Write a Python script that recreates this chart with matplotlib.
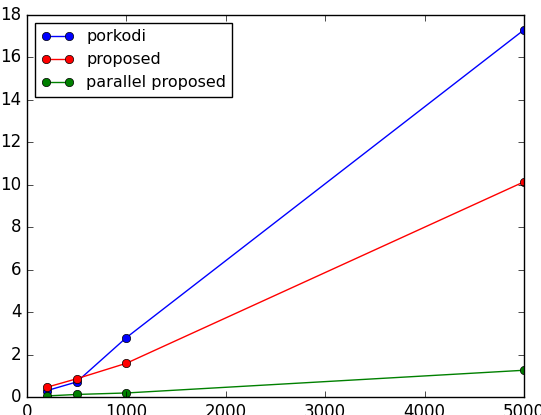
import matplotlib
matplotlib.use("Agg")
import matplotlib.pyplot as plt

plt.style.use('classic')

x = [200, 500, 1000, 5000]
porkodi = [0.30, 0.71, 2.80, 17.30]
proposed = [0.46, 0.86, 1.59, 10.14]
parallel = [0.05, 0.12, 0.19, 1.26]

fig = plt.figure(figsize=(5.41, 4.15), dpi=100, facecolor='white')
ax = fig.add_axes([27/541, 1-397/415, (524-27)/541, (397-15)/415])
ax.plot(x, porkodi, 'bo-', label='porkodi')
ax.plot(x, proposed, 'ro-', label='proposed')
ax.plot(x, parallel, 'go-', label='parallel proposed')
ax.set_xlim(0, 5000)
ax.set_ylim(0, 18)
ax.legend(loc='upper left', fontsize=11.5)
fig.savefig('out.png', dpi=100, facecolor='white')
